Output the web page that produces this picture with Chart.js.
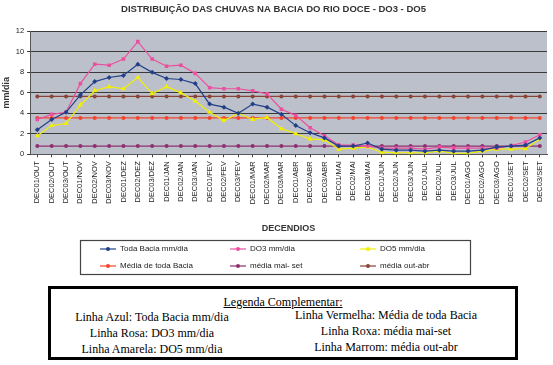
<!DOCTYPE html>
<html>
<head>
<meta charset="utf-8">
<script src="https://cdn.jsdelivr.net/npm/chart.js@4"></script>
<style>
  body { margin: 0; background: #fff; }
  #wrap { position: relative; width: 553px; height: 365px; }
  #box { position: absolute; width: 553px; height: 284px; left: 0; top: 0; }
  #nota {
    position: absolute; left: 48px; top: 286px; width: 464px; height: 68px;
    border: 3px solid #000; font-family: "Liberation Serif", "Times New Roman", serif;
    font-size: 12px; color: #000;
  }
  #nota .tit { position: absolute; left: 0; right: 0; top: 6px; text-align: center; text-decoration: underline; }
  #nota .c { position: absolute; text-align: center; width: 230px; }
</style>
</head>
<body>
<div id="wrap">
  <div id="box"><canvas id="myChart"></canvas></div>
  <div id="nota">
    <div class="tit">Legenda Complementar:</div>
    <div class="c" style="left:-14px;top:21px">Linha Azul: Toda Bacia mm/dia</div>
    <div class="c" style="left:-14px;top:37px">Linha Rosa: DO3 mm/dia</div>
    <div class="c" style="left:-14px;top:53px">Linha Amarela: DO5 mm/dia</div>
    <div class="c" style="left:220px;top:19px">Linha Vermelha: Média de toda Bacia</div>
    <div class="c" style="left:220px;top:35px">Linha Roxa: média mai-set</div>
    <div class="c" style="left:220px;top:51px">Linha Marrom: média out-abr</div>
  </div>
</div>
<script>
const meses = ['OUT','NOV','DEZ','JAN','FEV','MAR','ABR','MAI','JUN','JUL','AGO','SET']
const decendios = []
meses.forEach(m => {
    decendios.push('DEC01/' + m)
    decendios.push('DEC02/' + m)
    decendios.push('DEC03/' + m)
})

const todaBacia = [2.4,3.4,4.1,5.8,7.1,7.5,7.7,8.8,8.0,7.4,7.3,6.9,4.9,4.6,4.0,4.9,4.6,3.9,2.8,2.1,1.6,0.8,0.8,1.1,0.5,0.4,0.4,0.3,0.4,0.3,0.3,0.4,0.7,0.8,0.9,1.6]
const do3 = [3.4,3.9,4.1,6.9,8.8,8.7,9.3,11.0,9.3,8.6,8.7,7.9,6.5,6.4,6.4,6.2,5.9,4.4,3.8,2.6,1.8,0.9,0.9,0.8,0.6,0.6,0.6,0.5,0.7,0.6,0.6,0.6,0.6,0.85,1.2,1.9]
const do5 = [1.8,2.8,3.0,4.8,6.2,6.6,6.4,7.5,5.9,6.6,6.0,5.2,4.1,3.3,4.0,3.4,3.6,2.5,2.0,1.5,1.4,0.5,0.6,0.7,0.2,0.15,0.15,0.15,0.3,0.1,0.1,0.3,0.5,0.5,0.55,1.5]
const mediaToda = 3.55
const mediaMaiSet = 0.8
const mediaOutAbr = 5.65
const yTicks = [0,2,4,6,8,10,12]

const narrow = "'Liberation Sans Narrow', 'Arial Narrow', 'Liberation Sans', Arial, sans-serif"

function constante(v){
    return decendios.map(() => v)
}

const plotBg = {
    id: 'plotBg',
    beforeDraw(chart){
        const a = chart.chartArea, ctx = chart.ctx
        ctx.save()
        ctx.fillStyle = '#bcc0ca'
        ctx.fillRect(a.left, a.top, a.right - a.left, a.bottom - a.top)
        ctx.restore()
    }
}

// legend in a box, 3 columns x 2 rows like the original
const boxLegend = {
    id: 'boxLegend',
    afterDraw(chart){
        const ctx = chart.ctx
        ctx.save()
        ctx.strokeStyle = '#444'
        ctx.lineWidth = 1.2
        ctx.strokeRect(80.5, 240.5, 390, 34)
        const cols = [100, 230, 360]
        const rows = [249, 266]
        chart.data.datasets.forEach((ds, i) => {
            const x = cols[i % 3], y = rows[Math.floor(i / 3)]
            ctx.strokeStyle = ds.borderColor
            ctx.lineWidth = 1.2
            ctx.beginPath()
            ctx.moveTo(x, y)
            ctx.lineTo(x + 16, y)
            ctx.stroke()
            ctx.fillStyle = ds.pointBackgroundColor || ds.borderColor
            ctx.beginPath()
            ctx.arc(x + 8, y, 2, 0, Math.PI * 2)
            ctx.fill()
            ctx.fillStyle = '#222'
            ctx.font = '8px ' + narrow
            ctx.textBaseline = 'middle'
            ctx.fillText(ds.label, x + 20, y)
        })
        ctx.restore()
    }
}

const data = {
    labels: decendios,
    datasets: [
        { label: 'Toda Bacia mm/dia', data: todaBacia, borderColor: '#22408a', pointBackgroundColor: '#22408a', pointStyle: 'rectRot', pointRadius: 2.5 },
        { label: 'DO3 mm/dia', data: do3, borderColor: '#ec4f9e', pointBackgroundColor: '#ec4f9e', pointStyle: 'rect', pointRadius: 2.5 },
        { label: 'DO5 mm/dia', data: do5, borderColor: '#f2f000', pointBackgroundColor: '#f2f000', pointStyle: 'triangle', pointRadius: 3 },
        { label: 'Média de toda Bacia', data: constante(mediaToda), borderColor: '#f5452e', pointBackgroundColor: '#f5452e', pointRadius: 2 },
        { label: 'média mai- set', data: constante(mediaMaiSet), borderColor: '#8e3070', pointBackgroundColor: '#8e3070', pointRadius: 2 },
        { label: 'média out-abr', data: constante(mediaOutAbr), borderColor: '#8a4436', pointBackgroundColor: '#8a4436', pointRadius: 2 }
    ]
}
data.datasets.forEach(ds => {
    ds.borderWidth = 1.2
    ds.pointBorderWidth = 0
    ds.tension = 0
})

const config = {
    type: 'line',
    data: data,
    options: {
        responsive: true,
        maintainAspectRatio: false,
        animation: false,
        layout: { padding: { left: 0, right: 6, top: 0, bottom: 50 } },
        plugins: {
            legend: { display: false },
            tooltip: { enabled: false },
            title: {
                display: true,
                text: 'DISTRIBUIÇÃO DAS CHUVAS NA BACIA DO RIO DOCE - DO3 - DO5',
                color: '#333',
                font: { family: narrow, size: 9.5, weight: 'bold' },
                padding: { top: 4, bottom: 16 }
            }
        },
        scales: {
            x: {
                offset: true,
                grid: { display: true, drawOnChartArea: false, color: '#444', tickLength: 3 },
                border: { color: '#555' },
                ticks: {
                    autoSkip: false, maxRotation: 90, minRotation: 90,
                    color: '#222', font: { family: narrow, size: 7.5 }, padding: 4
                },
                title: {
                    display: true, text: 'DECENDIOS', color: '#333',
                    font: { family: narrow, size: 9, weight: 'bold' }, padding: { top: 15, bottom: 0 }
                }
            },
            y: {
                min: 0, max: 12,
                afterBuildTicks(axis){ axis.ticks = yTicks.map(v => ({ value: v })) },
                grid: { color: '#3a3a3a', lineWidth: 1, tickLength: 3 },
                border: { color: '#555' },
                ticks: { color: '#222', font: { family: narrow, size: 7.5 }, padding: 3 },
                title: {
                    display: true, text: 'mm/dia', color: '#333',
                    font: { family: narrow, size: 9, weight: 'bold' }, padding: 1
                }
            }
        }
    },
    plugins: [plotBg, boxLegend]
}
new Chart(document.getElementById('myChart'), config)
</script>
</body>
</html>
